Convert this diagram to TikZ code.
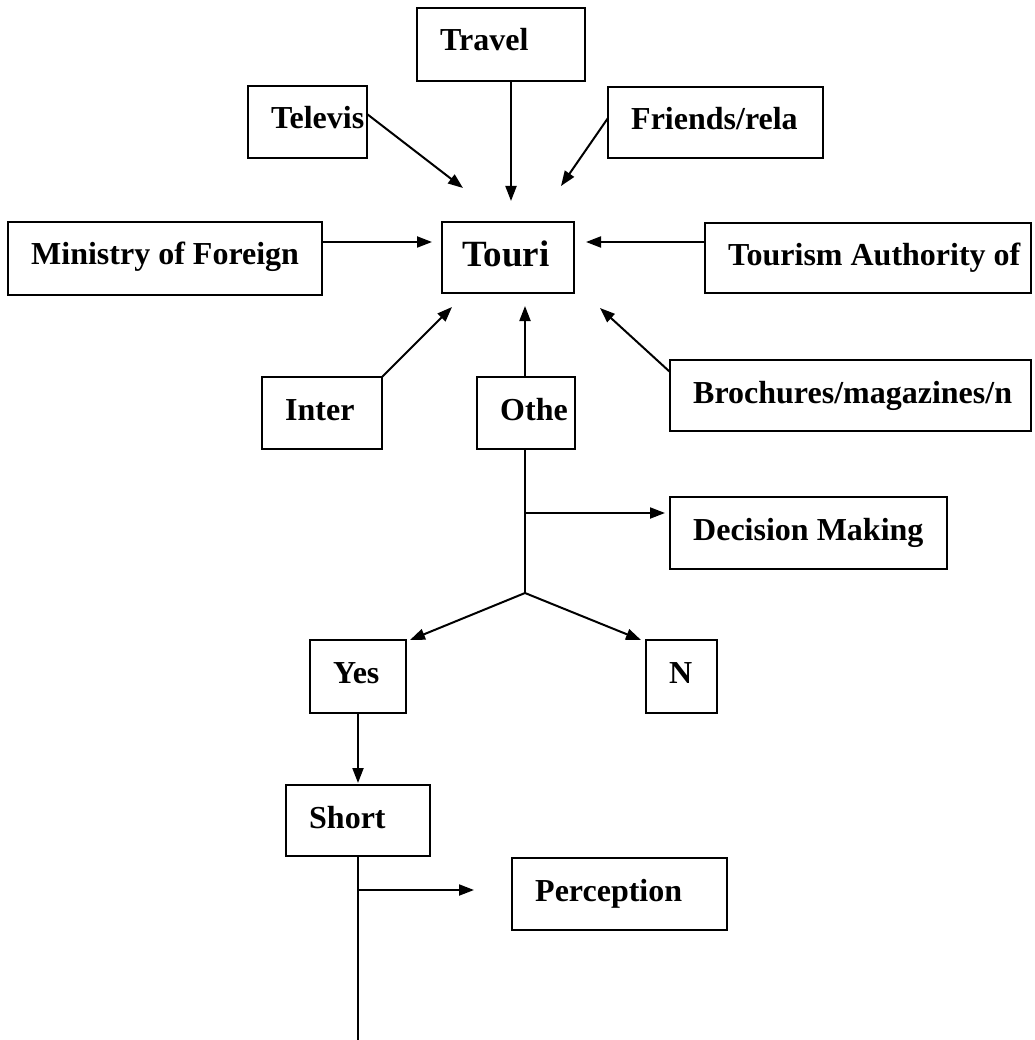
\documentclass[tikz,border=0pt]{standalone}
\usepackage{fontspec}
\setmainfont{Liberation Serif}
\usetikzlibrary{arrows.meta,calc}
\begin{document}
\begin{tikzpicture}[x=1pt,y=-1pt,
  box/.style={draw,line width=2pt,inner sep=0pt,outer sep=0pt},
  lbl/.style={inner sep=0pt,font=\fontsize{32}{38}\selectfont\bfseries},
  biglbl/.style={inner sep=0pt,font=\fontsize{37}{44}\selectfont\bfseries},
  arr/.style={line width=2pt,-{Triangle[length=15pt,width=11pt]}},
  ln/.style={line width=2pt}]
\useasboundingbox (0,0) rectangle (1034,1040);
% boxes: (left,top) rectangle (right,bottom)
\newcommand\mybox[6]{%
  \node[box,anchor=north west,minimum width={#4-#2},minimum height={#5-#3}] (#1) at (#2,#3) {};
  \node[lbl,anchor=base west] (#1t) at ({#2+23},{#3+43}) {#6};}
\mybox{travel}{417}{8}{585}{81}{Travel}
\mybox{tele}{248}{86}{367}{158}{Televis}
\mybox{friends}{608}{87}{823}{158}{Friends/rela}
\mybox{ministry}{8}{222}{322}{295}{Ministry of Foreign}
\node[box,anchor=north west,minimum width=132,minimum height=71] (touri) at (442,222) {};
\node[biglbl,anchor=base west] (tourit) at (462,267) {Touri};
\mybox{tat}{705}{223}{1031}{293}{Tourism Authority of}
\mybox{inter}{262}{377}{382}{449}{Inter}
\mybox{othe}{477}{377}{575}{449}{Othe}
\mybox{broch}{670}{360}{1031}{431}{Brochures/magazines/n}
\mybox{decision}{670}{497}{947}{569}{Decision Making}
\mybox{yes}{310}{640}{406}{713}{Yes}
\mybox{n}{646}{640}{717}{713}{N}
\mybox{short}{286}{785}{430}{856}{Short}
\mybox{perc}{512}{858}{727}{930}{Perception}
% arrow tips near Touri
\coordinate (tTop) at (511,201);
\coordinate (tTL) at (463,188);
\coordinate (tTR) at (561,186);
\coordinate (tL) at (432,242);
\coordinate (tR) at (586,242);
\coordinate (tBL) at (452,307);
\coordinate (tB) at (525,306);
\coordinate (tBR) at (600,308);
\draw[arr] ($(travel.south west)+(94,0)$) -- (tTop);
\draw[arr] ($(tele.north east)+(0,28)$) -- (tTL);
\draw[arr] ($(friends.north west)+(0,31)$) -- (tTR);
\draw[arr] ($(ministry.north east)+(0,20)$) -- (tL);
\draw[arr] ($(tat.north west)+(0,19)$) -- (tR);
\draw[arr] (inter.north east) -- (tBL);
\draw[arr] ($(othe.north west)+(48,0)$) -- (tB);
\draw[arr] ($(broch.north west)+(0,12)$) -- (tBR);
% lower part
\coordinate (j1) at (525,593);
\coordinate (b1) at (525,513);
\draw[ln] ($(othe.south west)+(48,0)$) -- (j1);
\draw[arr] (b1) -- ($(b1 -| decision.west)+(-5,0)$);
\draw[arr] (j1) -- ($(yes.north east)+(4,0)$);
\draw[arr] (j1) -- ($(n.north west)+(-5,0)$);
\draw[arr] ($(yes.south west)+(48,0)$) -- ($(short.north west)+(72,-2)$);
\coordinate (sEnd) at (358,1040);
\coordinate (b2) at (358,890);
\draw[ln] ($(short.south west)+(72,0)$) -- (sEnd);
\draw[arr] (b2) -- ($(b2 -| perc.west)+(-38,0)$);
\end{tikzpicture}
\end{document}
